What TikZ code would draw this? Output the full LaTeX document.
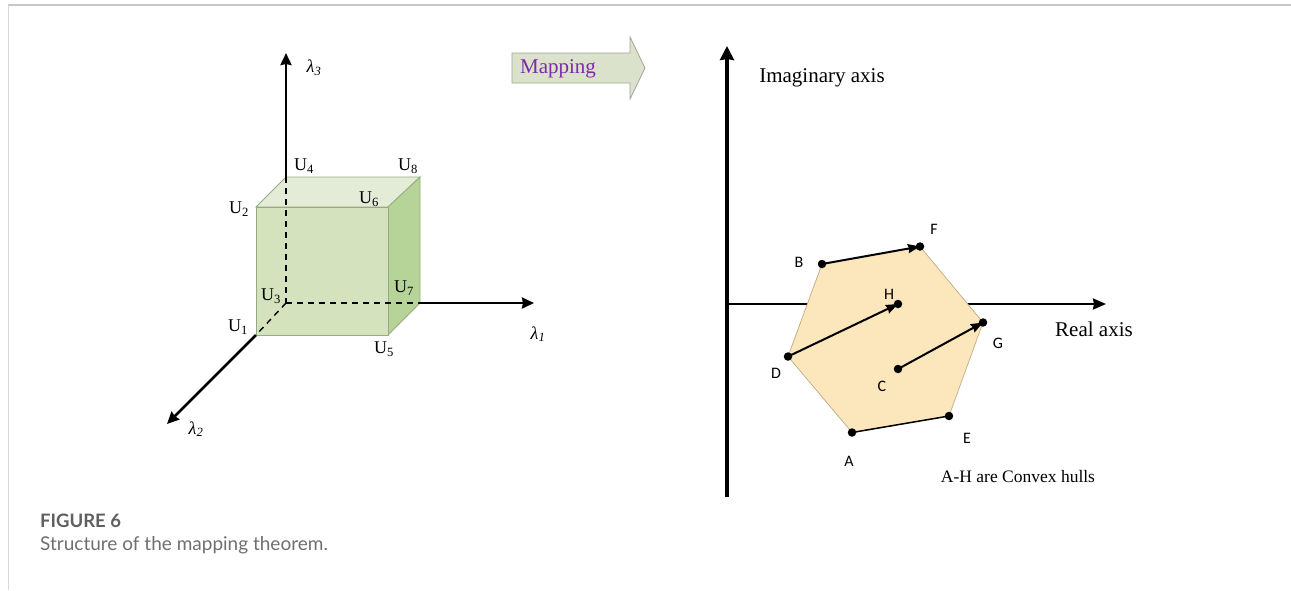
\documentclass[tikz,border=0pt]{standalone}
\usepackage{fontspec}
\setmainfont{Liberation Serif}
\newfontfamily\capfont{Lato}
\newfontfamily\ptfont{Carlito}
\usetikzlibrary{arrows.meta}
\definecolor{frontc}{RGB}{212,226,190}
\definecolor{topc}{RGB}{228,236,216}
\definecolor{sidec}{RGB}{182,211,152}
\definecolor{edgec}{RGB}{150,172,128}
\definecolor{mapfill}{RGB}{219,226,203}
\definecolor{mapedge}{RGB}{160,165,150}
\definecolor{mapc}{RGB}{128,40,170}
\definecolor{hexfill}{RGB}{252,230,188}
\definecolor{hexedge}{RGB}{190,170,130}
\definecolor{capgray}{RGB}{95,95,95}
\definecolor{framec}{RGB}{200,200,200}
\tikzset{
  axis/.style={line width=2.6pt,-{Stealth[length=12pt,width=11pt,inset=1pt]}},
  hidden/.style={line width=1.4pt,dash pattern=on 6pt off 5pt},
  ulab/.style={font=\fontsize{18}{18}\selectfont,inner sep=0pt},
  llab/.style={font=\fontsize{18}{18}\selectfont\itshape,inner sep=0pt},
  plab/.style={font=\ptfont\fontsize{16}{16}\selectfont,inner sep=0pt},
  bigtxt/.style={font=\fontsize{21}{21}\selectfont,inner sep=0pt},
  dot/.style={circle,fill=black,inner sep=0pt,minimum size=8.5pt},
  vec/.style={line width=2pt,-{Stealth[length=12pt,width=9pt,inset=1pt]}},
}
\begin{document}
\begin{tikzpicture}[x=1pt,y=-1pt]
\useasboundingbox (0,0) rectangle (1291,590);
% frame
\draw[framec,line width=1.2pt] (8,5) -- (1291,5);
\draw[framec!70,line width=0.8pt] (8,5) -- (8,590);
% cube corners
\coordinate (U1) at (256,335);
\coordinate (U2) at (256,207);
\coordinate (U5) at (388,335);
\coordinate (U6) at (388,207);
\coordinate (U3) at (286,303);
\coordinate (U4) at (286,177);
\coordinate (U7) at (420,303);
\coordinate (U8) at (420,177);
\coordinate (L3) at (286,53);
\coordinate (L1) at (534,303);
\coordinate (L2) at (167,424);
% faces
\filldraw[fill=topc,draw=edgec,line width=0.8pt] (U2) -- (U4) -- (U8) -- (U6) -- cycle;
\filldraw[fill=sidec,draw=edgec,line width=0.8pt] (U6) -- (U8) -- (U7) -- (U5) -- cycle;
\filldraw[fill=frontc,draw=edgec,line width=0.8pt] (U1) -- (U2) -- (U6) -- (U5) -- cycle;
% hidden axes
\draw[hidden] (U4) -- (U3);
\draw[hidden] (U3) -- (U7);
\draw[hidden] (U3) -- (U1);
% axes
\draw[axis] (U4) -- (L3);
\draw[axis] (U7) -- (L1);
\draw[axis] (U1) -- (L2);
% labels
\node[llab] (l3) at (314,68) {λ\textsubscript{3}};
\node[llab] (l1) at (538,334) {λ\textsubscript{1}};
\node[llab] (l2) at (196,429) {λ\textsubscript{2}};
\node[ulab] (u4) at (304,166) {U\textsubscript{4}};
\node[ulab] (u8) at (408,166) {U\textsubscript{8}};
\node[ulab] (u2) at (239,209) {U\textsubscript{2}};
\node[ulab] (u6) at (369,199) {U\textsubscript{6}};
\node[ulab] (u3) at (271,296) {U\textsubscript{3}};
\node[ulab] (u7) at (404,288) {U\textsubscript{7}};
\node[ulab] (u1) at (238,327) {U\textsubscript{1}};
\node[ulab] (u5) at (384,349) {U\textsubscript{5}};
% mapping arrow
\filldraw[fill=mapfill,draw=mapedge,line width=0.8pt]
  (512,53) -- (630,53) -- (630,37) -- (645,68) -- (630,99) -- (630,83) -- (512,83) -- cycle;
\node[bigtxt,text=mapc] (map) at (558,69) {Mapping};
% complex plane
\coordinate (O) at (727,304);
\coordinate (Ibot) at (727,497);
\coordinate (Itop) at (727,46);
\coordinate (Rend) at (1106,304);
\draw[line width=3.2pt,-{Stealth[length=14pt,width=14pt,inset=1pt]}] (Ibot) -- (Itop);
\draw[line width=2.4pt,-{Stealth[length=13pt,width=11pt,inset=1pt]}] (O) -- (Rend);
\node[bigtxt] (im) at (822,78) {Imaginary axis};
\node[bigtxt] (re) at (1094,329) {Real axis};
% hexagon
\coordinate (B) at (822,264);
\coordinate (F) at (920,246.5);
\coordinate (G) at (983,322.5);
\coordinate (E) at (949,416);
\coordinate (A) at (852,432.5);
\coordinate (D) at (788,356.5);
\coordinate (H) at (898,304);
\coordinate (C) at (898,369);
\filldraw[fill=hexfill,draw=hexedge,line width=0.7pt] (B) -- (F) -- (G) -- (E) -- (A) -- (D) -- cycle;
\draw[line width=1.5pt] (A) -- (E);
\draw[vec] (B) -- (F);
\draw[vec] (D) -- (H);
\draw[vec] (C) -- (G);
\foreach \p in {A,B,C,D,E,F,G,H} \node[dot] at (\p) {};
\node[plab] (lF) at (934,229) {F};
\node[plab] (lB) at (799,262) {B};
\node[plab] (lH) at (889,294) {H};
\node[plab] (lG) at (998,343) {G};
\node[plab] (lD) at (776,373) {D};
\node[plab] (lC) at (882,386) {C};
\node[plab] (lE) at (967,438) {E};
\node[plab] (lA) at (849,461) {A};
\node[font=\fontsize{17.5}{17.5}\selectfont,inner sep=0pt] (note) at (1018,477) {A-H are Convex hulls};
% caption
\node[anchor=west,font=\capfont\bfseries\fontsize{18.5}{18.5}\selectfont,text=capgray,inner sep=0pt] (fig) at (40,521) {FIGURE 6};
\node[anchor=west,font=\capfont\fontsize{19}{19}\selectfont,text=capgray!90,inner sep=0pt] (cap) at (40,545) {Structure of the mapping theorem.};
\end{tikzpicture}
\end{document}
